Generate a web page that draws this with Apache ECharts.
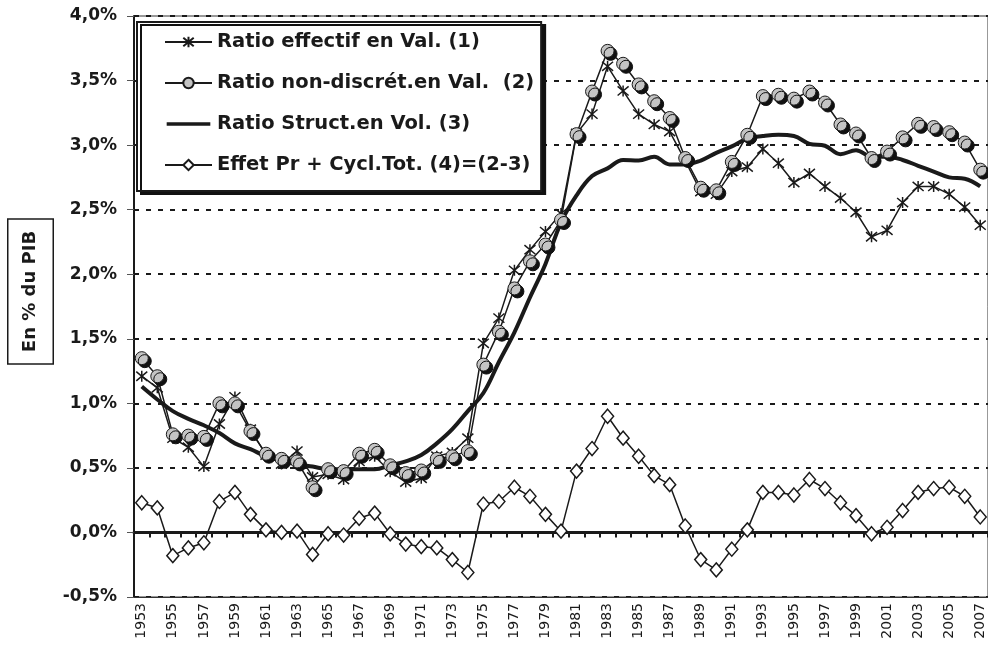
<!DOCTYPE html>
<html>
<head>
<meta charset="utf-8">
<script src="https://cdn.jsdelivr.net/npm/echarts@6/dist/echarts.min.js"></script>
<style>
html,body{margin:0;padding:0;background:#fff;}
#chart{width:988px;height:650px;}
</style>
</head>
<body>
<div id="chart"></div>
<script>
var years = ['1953','1954','1955','1956','1957','1958','1959','1960','1961','1962','1963','1964','1965','1966','1967','1968','1969','1970','1971','1972','1973','1974','1975','1976','1977','1978','1979','1980','1981','1982','1983','1984','1985','1986','1987','1988','1989','1990','1991','1992','1993','1994','1995','1996','1997','1998','1999','2000','2001','2002','2003','2004','2005','2006','2007'];

var seriesNames = [
  'Ratio effectif en Val. (1)',
  'Ratio non-discrét.en Val.  (2)',
  'Ratio Struct.en Vol. (3)',
  'Effet Pr + Cycl.Tot. (4)=(2-3)'
];

var ratioEffectif = [1.21,1.12,0.73,0.66,0.51,0.84,1.05,0.80,0.60,0.53,0.63,0.43,0.45,
  0.41,0.55,0.59,0.47,0.39,0.42,0.59,0.62,0.73,1.465,1.66,2.03,2.19,2.33,
  2.47,3.09,3.24,3.61,3.42,3.24,3.16,3.105,2.88,2.64,2.62,2.795,2.83,
  2.97,2.86,2.71,2.78,2.68,2.59,2.48,2.29,2.34,2.555,2.68,2.68,2.62,2.52,2.38];

var ratioNonDiscret = [1.35,1.21,0.76,0.75,0.74,1.00,1.00,0.785,0.61,0.57,0.55,0.35,0.49,
  0.475,0.61,0.64,0.52,0.46,0.48,0.57,0.59,0.63,1.30,1.555,1.89,2.10,2.23,
  2.42,3.085,3.415,3.73,3.63,3.47,3.34,3.21,2.90,2.67,2.65,2.87,3.08,
  3.38,3.39,3.36,3.415,3.33,3.16,3.09,2.90,2.95,3.06,3.165,3.14,3.10,3.02,2.81];

var ratioStruct = [1.13,1.03,0.94,0.88,0.83,0.77,0.69,0.645,0.59,0.56,0.53,0.51,0.49,
  0.49,0.49,0.49,0.52,0.55,0.60,0.69,0.80,0.94,1.08,1.32,1.55,1.82,2.08,
  2.40,2.61,2.76,2.82,2.885,2.88,2.91,2.85,2.85,2.88,2.94,2.99,3.05,
  3.07,3.08,3.07,3.01,2.995,2.93,2.96,2.91,2.91,2.885,2.84,2.795,2.75,2.74,2.68];

var effetCycl = [0.23,0.19,-0.18,-0.12,-0.08,0.24,0.31,0.14,0.02,0.00,0.01,-0.17,-0.01,
  -0.02,0.11,0.15,-0.01,-0.09,-0.11,-0.12,-0.21,-0.31,0.22,0.24,0.35,0.28,0.14,
  0.01,0.475,0.65,0.90,0.73,0.59,0.44,0.37,0.05,-0.21,-0.29,-0.13,0.02,
  0.31,0.31,0.29,0.41,0.34,0.23,0.13,-0.01,0.04,0.17,0.31,0.34,0.35,0.28,0.12];

var yTicks = {min: -0.5, max: 4.0, step: 0.5};
var yTitle = 'En % du PIB';

var chart = echarts.init(document.getElementById('chart'), null, {renderer: 'canvas'});
var ink = '#1a1a1a';
var asteriskPath = 'path://M0,0 L10,10 M10,0 L0,10 M5,-1 L5,11';
var thickLineIcon = 'path://M0,0 L0.01,0 L0.01,0.01 Z M0,5 L47,5 L47,9 L0,9 Z M0,14 L0.01,14 L0.01,13.99 Z';

var option = {
  backgroundColor: '#ffffff',
  animation: false,
  grid: {left: 134, top: 16, width: 856, height: 581, show: true, borderColor: '#333', borderWidth: 1, backgroundColor: 'transparent'},
  legend: {
    orient: 'vertical',
    left: 137, top: 22,
    padding: [9, 7, 15, 27],
    itemGap: 19,
    itemWidth: 47,
    itemHeight: 13,
    backgroundColor: '#fff',
    borderColor: ink,
    borderWidth: 2,
    shadowColor: '#111',
    shadowBlur: 0,
    shadowOffsetX: 4,
    shadowOffsetY: 3,
    textStyle: {fontFamily: 'DejaVu Sans', fontWeight: 'bold', fontSize: 19.5, color: ink, lineHeight: 22},
    data: [
      {name: seriesNames[0]},
      {name: seriesNames[1]},
      {name: seriesNames[2], icon: thickLineIcon, itemStyle: {color: ink}},
      {name: seriesNames[3]}
    ]
  },
  graphic: [
    {
      type: 'text',
      x: 30.5, y: 291.5,
      rotation: Math.PI / 2,
      style: {
        text: yTitle,
        fontFamily: 'DejaVu Sans', fontWeight: 'bold', fontSize: 18,
        fill: ink,
        align: 'center', verticalAlign: 'middle',
        lineHeight: 22,
        padding: [11, 11, 11, 11],
        borderColor: ink, borderWidth: 1.5,
        backgroundColor: '#fff'
      }
    }
  ],
  xAxis: [
    {
      type: 'category', data: years, boundaryGap: true, position: 'bottom',
      axisLine: {show: true, onZero: false, lineStyle: {color: '#333', width: 1}},
      axisTick: {show: false},
      axisLabel: {interval: 1, rotate: 90, margin: 6, fontFamily: 'DejaVu Sans', fontSize: 14, color: ink},
      splitLine: {show: false}
    },
    {
      type: 'category', data: years, boundaryGap: true, position: 'bottom',
      axisLine: {show: true, onZero: true, lineStyle: {color: ink, width: 3}},
      axisTick: {show: true, interval: 0, inside: false, length: 5, lineStyle: {color: ink, width: 2}},
      axisLabel: {show: false},
      splitLine: {show: false}
    }
  ],
  yAxis: {
    type: 'value', min: yTicks.min, max: yTicks.max, interval: yTicks.step,
    axisLine: {show: true, lineStyle: {color: ink, width: 2}},
    axisTick: {show: true, length: 7, lineStyle: {color: '#555', width: 1}},
    axisLabel: {margin: 17, fontFamily: 'DejaVu Sans', fontWeight: 'bold', fontSize: 17, color: ink,
      formatter: function (v) { return v.toFixed(1).replace('.', ',') + '%'; }},
    splitLine: {show: true, lineStyle: {color: ink, width: 2, type: [5, 7]}}
  },
  series: [
    {
      name: seriesNames[0], type: 'line', data: ratioEffectif, xAxisIndex: 0,
      symbol: asteriskPath, symbolSize: 11, showSymbol: true, showAllSymbol: true,
      lineStyle: {color: ink, width: 1.5},
      itemStyle: {color: 'rgba(0,0,0,0)', borderColor: ink, borderWidth: 1.5},
      z: 3
    },
    {
      name: seriesNames[1], type: 'line', data: ratioNonDiscret, xAxisIndex: 0,
      symbol: 'circle', symbolSize: 13, showSymbol: true, showAllSymbol: true,
      lineStyle: {color: ink, width: 1.5},
      itemStyle: {color: '#c4c4c4', borderColor: ink, borderWidth: 1,
        shadowColor: '#111', shadowBlur: 0, shadowOffsetX: 3, shadowOffsetY: 3},
      z: 4
    },
    {
      name: seriesNames[2], type: 'line', data: ratioStruct, xAxisIndex: 0,
      symbol: 'none', smooth: 0.4,
      lineStyle: {color: ink, width: 4},
      itemStyle: {color: ink},
      z: 2
    },
    {
      name: seriesNames[3], type: 'line', data: effetCycl, xAxisIndex: 0,
      symbol: 'diamond', symbolSize: [12, 14], showSymbol: true, showAllSymbol: true,
      lineStyle: {color: ink, width: 1.5},
      itemStyle: {color: '#fff', borderColor: ink, borderWidth: 1.5},
      z: 3
    }
  ]
};
chart.setOption(option);
</script>
</body>
</html>
